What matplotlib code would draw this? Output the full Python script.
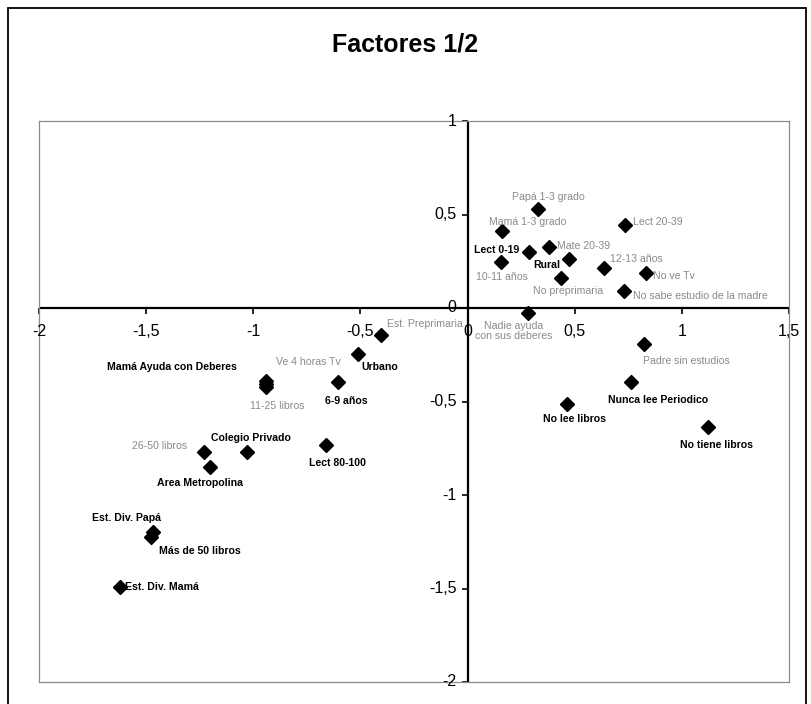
import matplotlib
matplotlib.use("Agg")
import matplotlib.pyplot as plt
from matplotlib.patches import Rectangle
from matplotlib.lines import TICKDOWN, TICKLEFT

plt.rcParams['font.family'] = ['Liberation Sans', 'DejaVu Sans']

# ---------------- data ----------------
categories = [
    'Papá 1-3 grado', 'Mamá 1-3 grado', 'Lect 20-39', 'Mate 20-39', 'Lect 0-19',
    '10-11 años', 'Rural', '12-13 años', 'No ve Tv', 'No preprimaria',
    'No sabe estudio de la madre', 'Nadie ayuda\ncon sus deberes', 'Est. Preprimaria',
    'Urbano', 'Ve 4 horas Tv', 'Mamá Ayuda con Deberes', '11-25 libros', '6-9 años',
    '26-50 libros', 'Colegio Privado', 'Area Metropolina', 'Lect 80-100',
    'Est. Div. Papá', 'Más de 50 libros', 'Est. Div. Mamá', 'Padre sin estudios',
    'Nunca lee Periodico', 'No lee libros', 'No tiene libros',
]
factor1 = [0.329, 0.161, 0.735, 0.380, 0.287,
           0.156, 0.473, 0.636, 0.832, 0.436,
           0.730, 0.282, -0.404,
           -0.511, -0.940, -0.940, -0.940, -0.604,
           -1.230, -1.029, -1.202, -0.661,
           -1.468, -1.477, -1.622, 0.823,
           0.763, 0.464, 1.124]
factor2 = [0.529, 0.412, 0.444, 0.326, 0.299,
           0.246, 0.262, 0.214, 0.187, 0.160,
           0.091, -0.027, -0.144,
           -0.246, -0.390, -0.406, -0.422, -0.396,
           -0.770, -0.770, -0.850, -0.733,
           -1.198, -1.225, -1.492, -0.193,
           -0.396, -0.513, -0.636]
highlighted = ['Lect 0-19', 'Rural', 'Urbano', 'Mamá Ayuda con Deberes', '6-9 años',
               'Colegio Privado', 'Area Metropolina', 'Lect 80-100', 'Est. Div. Papá',
               'Más de 50 libros', 'Est. Div. Mamá', 'Nunca lee Periodico',
               'No lee libros', 'No tiene libros']
x_ticks = [-2, -1.5, -1, -0.5, 0, 0.5, 1, 1.5]
y_ticks = [1, 0.5, 0, -0.5, -1, -1.5, -2]
title = 'Factores 1/2'

# ---------------- label layout (alignment, dx px, dy px) ----------------
label_layout = {
    'Papá 1-3 grado': ('center', 10, 12),
    'Mamá 1-3 grado': ('center', 26, 9),
    'Lect 20-39': ('left', 8, 3),
    'Mate 20-39': ('left', 8, 1),
    'Lect 0-19': ('right', -10, 2),
    '10-11 años': ('center', 1, -15),
    'Rural': ('right', -9, -6),
    '12-13 años': ('left', 6, 9),
    'No ve Tv': ('left', 7, -3),
    'No preprimaria': ('center', 7, -13),
    'No sabe estudio de la madre': ('left', 9, -5),
    'Nadie ayuda\ncon sus deberes': ('center', -14, -18),
    'Est. Preprimaria': ('left', 6, 11),
    'Urbano': ('center', 22, -13),
    'Ve 4 horas Tv': ('center', 42, 19),
    'Mamá Ayuda con Deberes': ('right', -29, 17),
    '11-25 libros': ('center', 11, -19),
    '6-9 años': ('center', 8, -19),
    '26-50 libros': ('right', -17, 6),
    'Colegio Privado': ('center', 4, 14),
    'Area Metropolina': ('center', -10, -16),
    'Lect 80-100': ('center', 12, -18),
    'Est. Div. Papá': ('center', -26, 14),
    'Más de 50 libros': ('center', 49, -14),
    'Est. Div. Mamá': ('left', 5, 0),
    'Padre sin estudios': ('center', 42, -17),
    'Nunca lee Periodico': ('center', 27, -18),
    'No lee libros': ('center', 8, -15),
    'No tiene libros': ('center', 8, -18),
}

def fmt(v):
    s = ('%g' % v).replace('.', ',')
    return s

W, H = 812, 704
fig = plt.figure(figsize=(W / 100, H / 100), dpi=100)
fig.patch.set_facecolor('white')

# outer chart border
fig.patches.append(Rectangle((8 / W, -0.05), (806 - 8) / W, 1.05 - 8 / H,
                             transform=fig.transFigure, fill=False,
                             edgecolor='black', lw=1.3))

fig.text(405 / W, 1 - 45 / H, title, ha='center', va='center',
         fontsize=18, fontweight='bold')

ax = fig.add_axes([39 / W, 1 - 682 / H, 750 / W, 561 / H])
ax.set_xlim(x_ticks[0], x_ticks[-1])
ax.set_ylim(y_ticks[-1], y_ticks[0])
for sp in ax.spines.values():
    sp.set_color('#8c8c8c')
    sp.set_linewidth(0.9)
ax.set_xticks([])
ax.set_yticks([])

ax.axhline(0, color='black', lw=1.6, zorder=2)
ax.axvline(0, color='black', lw=1.6, zorder=2)
ax.plot(x_ticks, [0] * len(x_ticks), ls='none', marker=TICKDOWN, ms=4,
        mew=1.2, color='black', clip_on=False, zorder=2)
ax.plot([0] * len(y_ticks), y_ticks, ls='none', marker=TICKLEFT, ms=4,
        mew=1.2, color='black', clip_on=False, zorder=2)

for xt in x_ticks:
    ax.annotate(fmt(xt), (xt, 0), xytext=(0, -24), textcoords='offset pixels',
                ha='center', va='center', fontsize=11.5, clip_on=False)
for yt in y_ticks:
    ax.annotate(fmt(yt), (0, yt), xytext=(-11, 0), textcoords='offset pixels',
                ha='right', va='center', fontsize=11.5, clip_on=False)

ax.plot(factor1, factor2, ls='none', marker='D', ms=7, color='black',
        zorder=3, clip_on=False)

for name, xv, yv in zip(categories, factor1, factor2):
    ha, dx, dy = label_layout[name]
    bold = name in highlighted
    ax.annotate(name, (xv, yv), xytext=(dx, dy), textcoords='offset pixels',
                ha=ha, va='center', multialignment='center', linespacing=1.0,
                fontsize=7.6, fontweight='bold' if bold else 'normal',
                color='black' if bold else '#8a8a8a', zorder=4)

fig.savefig('out.png', dpi=100)
